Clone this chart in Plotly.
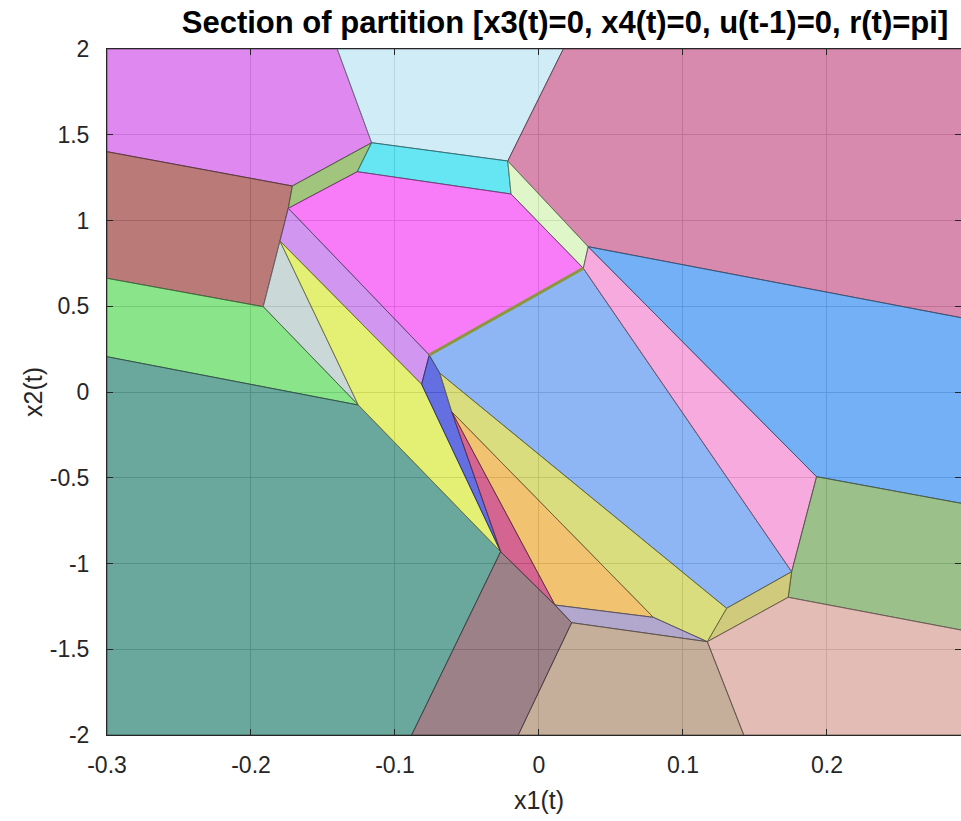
import plotly.graph_objects as go

# ---- axis ticks ----
x_ticks = [-0.3, -0.2, -0.1, 0, 0.1, 0.2]
x_tick_labels = ["-0.3", "-0.2", "-0.1", "0", "0.1", "0.2"]
y_ticks = [-2, -1.5, -1, -0.5, 0, 0.5, 1, 1.5, 2]
y_tick_labels = ["-2", "-1.5", "-1", "-0.5", "0", "0.5", "1", "1.5", "2"]

# ---- shared vertices (x1, x2) ----
PT = (-0.1401, 2.0)
A = (-0.1162, 1.4536)
C = (-0.1713, 1.2012)
D = (-0.3, 1.4012)
E = (-0.1262, 1.2845)
F = (-0.1741, 1.0711)
G = (-0.0217, 1.3469)
H = (-0.0194, 1.1545)
I = (0.0169, 2.0)
J = (0.0342, 0.8472)
L = (0.0308, 0.7213)
M = (0.1755, -1.0478)
N = (0.1928, -0.4939)
O = (0.1731, -1.1971)
P = (0.1303, -1.2612)
Q = (0.1169, -1.4560)
R = (0.1422, -2.0)
S = (0.0227, -1.3452)
T = (0.0111, -1.2420)
U = (0.0794, -1.3137)
V = (-0.0144, -2.0)
W = (-0.0266, -0.9312)
X = (-0.0884, -2.0)
Z = (-0.1255, -0.0758)
BB = (-0.1915, 0.4974)
GT = (-0.1799, 0.8805)
MB = (-0.0762, 0.2157)
LB = (-0.0815, 0.0449)
KT = (-0.0688, 0.1090)
CT = (-0.0606, -0.1149)
L1 = (-0.3, 0.6630)
L2 = (-0.3, 0.2058)
TL = (-0.3, 2.0)
TR = (0.3, 2.0)
R1 = (0.3, 0.4222)
R2 = (0.3, -0.6595)
R3 = (0.3, -1.3988)
BR = (0.3, -2.0)
BL = (-0.3, -2.0)

# ---- regions: (vertex list, observed colour) ----
regions = [
    ([TL, PT, A, C, D], (223, 136, 240)),
    ([PT, I, G, A], (208, 236, 247)),
    ([I, TR, R1, J, G], (216, 138, 174)),
    ([D, C, F, GT, BB, L1], (186, 122, 120)),
    ([C, A, E, F], (162, 197, 126)),
    ([A, G, H, E], (101, 230, 242)),
    ([G, J, L, H], (222, 246, 200)),
    ([E, H, L, MB, F], (248, 124, 248)),
    ([F, MB, LB, GT], (208, 150, 240)),
    ([GT, Z, BB], (203, 216, 216)),
    ([L1, BB, Z, L2], (138, 228, 138)),
    ([L2, Z, W, X, BL], (106, 168, 158)),
    ([GT, LB, W, Z], (228, 240, 116)),
    ([MB, KT, CT, W, LB], (100, 112, 226)),
    ([MB, L, M, P, KT], (142, 182, 244)),
    ([J, N, M, L], (246, 170, 222)),
    ([J, R1, R2, N], (116, 176, 246)),
    ([N, R2, R3, O, M], (155, 192, 138)),
    ([M, O, Q, P], (207, 202, 124)),
    ([Q, O, R3, BR, R], (228, 188, 182)),
    ([KT, P, Q, U, CT], (218, 221, 126)),
    ([CT, U, T], (241, 195, 112)),
    ([CT, T, W], (212, 100, 144)),
    ([T, U, Q, S], (178, 168, 205)),
    ([S, Q, R, V], (197, 174, 154)),
    ([W, T, S, V, X], (156, 130, 136)),
]
thin_edge = ([MB, L], (140, 150, 60))

ALPHA = 0.75


def base_rgba(obs, a=ALPHA):
    c = [max(0, min(255, round((v - 255 * (1 - a)) / a))) for v in obs]
    return f"rgba({c[0]},{c[1]},{c[2]},{a})"


def edge_rgba(obs):
    c = [round(v * 0.45) for v in obs]
    return f"rgba({c[0]},{c[1]},{c[2]},0.85)"


fig = go.Figure()
for verts, col in regions:
    xs = [v[0] for v in verts] + [verts[0][0]]
    ys = [v[1] for v in verts] + [verts[0][1]]
    fig.add_trace(go.Scatter(
        x=xs, y=ys, mode="lines", fill="toself",
        fillcolor=base_rgba(col),
        line=dict(color=edge_rgba(col), width=1),
        hoverinfo="skip", showlegend=False,
    ))

fig.add_trace(go.Scatter(
    x=[v[0] for v in thin_edge[0]], y=[v[1] for v in thin_edge[0]],
    mode="lines", line=dict(color="rgb(%d,%d,%d)" % thin_edge[1], width=3),
    hoverinfo="skip", showlegend=False,
))

FONT = "Liberation Sans, Arial, Helvetica, sans-serif"
axis_common = dict(
    showgrid=True, gridcolor="rgb(165,165,165)", gridwidth=1,
    zeroline=False, showline=True, linecolor="rgb(38,38,38)", linewidth=1,
    ticks="inside", ticklen=6, tickcolor="rgb(38,38,38)", mirror="ticks",
    tickfont=dict(family=FONT, size=23, color="rgb(38,38,38)"),
)

fig.update_layout(
    width=961, height=821,
    margin=dict(l=107, r=0, t=49, b=86),
    paper_bgcolor="white", plot_bgcolor="white",
    title=dict(
        text="<b>Section of partition [x3(t)=0, x4(t)=0, u(t-1)=0, r(t)=pi]</b>",
        x=565 / 961, xanchor="center", xref="container",
        y=1 - 22 / 821, yanchor="middle", yref="container",
        font=dict(family=FONT, size=31, color="black"),
    ),
    xaxis=dict(range=[-0.3, 0.2931], tickvals=x_ticks, ticktext=x_tick_labels,
               ticklabelstandoff=9, **axis_common),
    yaxis=dict(range=[-2, 2], tickvals=y_ticks, ticktext=y_tick_labels,
               ticklabelstandoff=12, **axis_common),
    annotations=[
        dict(text="x1(t)", xref="paper", yref="paper", x=(539 - 107) / 854, y=(735 - 800) / 686,
             xanchor="center", yanchor="middle", showarrow=False,
             font=dict(family=FONT, size=25, color="rgb(38,38,38)")),
        dict(text="x2(t)", xref="paper", yref="paper", x=(33 - 107) / 854, y=0.5,
             xanchor="center", yanchor="middle", showarrow=False, textangle=-90,
             font=dict(family=FONT, size=25, color="rgb(38,38,38)")),
    ],
)

fig.write_html("out.html", config={"displayModeBar": False},
               post_script="document.body.style.margin='0';")
